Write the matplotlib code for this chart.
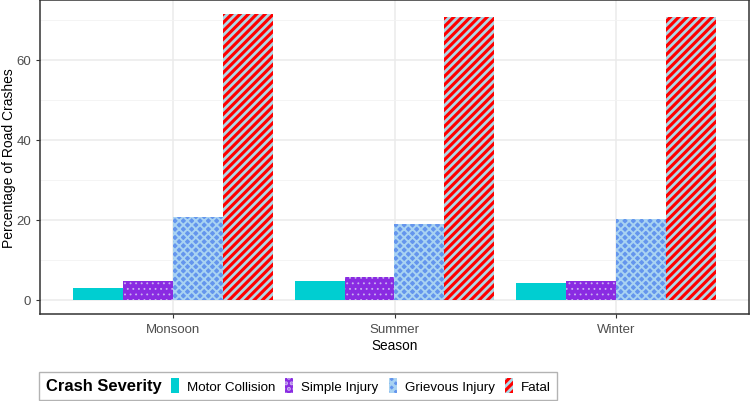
import numpy as np
import matplotlib
matplotlib.use("Agg")
import matplotlib.pyplot as plt
from matplotlib.patches import Patch
from matplotlib.offsetbox import HPacker

plt.rcParams['font.family'] = ['Liberation Sans', 'DejaVu Sans']

seasons = ["Monsoon", "Summer", "Winter"]
severity = ["Motor Collision", "Simple Injury", "Grievous Injury", "Fatal"]
motor = [3.0, 4.8, 4.1]
simple = [4.6, 5.6, 4.6]
grievous = [20.6, 19.0, 20.3]
fatal = [71.4, 70.6, 70.8]

# fill, hatch colour, hatch, hatch line width
styles = [("#00CED1", "#00CED1", "", 1.0),
          ("#8A2BE2", "#C9B2F0", "...", 0.6),
          ("#6495ED", "#A9D3F2", "xxxx", 1.4),
          ("#FF0000", "#ADD8E6", "////", 2.0)]

fig = plt.figure(figsize=(7.5, 4.02), dpi=100)
ax = fig.add_axes([40 / 750, 87 / 402, 709 / 750, 314 / 402])

x = np.arange(1, len(seasons) + 1)
w = 0.225
handles = []
for i, vals in enumerate([motor, simple, grievous, fatal]):
    fc, hc, h, hlw = styles[i]
    plt.rcParams['hatch.linewidth'] = hlw
    ax.bar(x + (i - 1.5) * w, vals, width=w, facecolor=fc, edgecolor=hc,
           hatch=h, linewidth=0, zorder=3)
    handles.append(Patch(facecolor=fc, edgecolor=hc, hatch=h, linewidth=0))

ax.set_xlim(0.4, 3.6)
ax.set_ylim(-3.57, 74.97)
ax.set_xticks(x)
ax.set_xticklabels(seasons)
ax.set_yticks([0, 20, 40, 60])
ax.set_yticks([10, 30, 50, 70], minor=True)
ax.grid(which="major", color="#EBEBEB", linewidth=1.1, zorder=0)
ax.grid(which="minor", axis="y", color="#F2F2F2", linewidth=0.6, zorder=0)
ax.set_axisbelow(True)
for s in ax.spines.values():
    s.set_color("#333333")
    s.set_linewidth(1.1)
ax.tick_params(which="major", colors="#333333", labelcolor="#4D4D4D",
               labelsize=9.5, length=3)
ax.tick_params(which="minor", length=0)
ax.set_xlabel("Season", fontsize=9.8, labelpad=2)
ax.set_ylabel("Percentage of Road Crashes", fontsize=10.0, labelpad=0.5)

# legend at the bottom, title to the left of the keys
leg = fig.legend(handles, severity, title="Crash Severity",
                 title_fontproperties={"weight": "bold", "size": 11.9},
                 loc="lower left", bbox_to_anchor=(39 / 750, 1 / 402),
                 ncol=4, fontsize=9.6, frameon=True, fancybox=False,
                 handlelength=0.6, handleheight=1.3, handletextpad=0.6,
                 columnspacing=0.75, borderpad=0.5, borderaxespad=0)
box = leg._legend_box
hbox = HPacker(pad=box.pad, sep=7, align="center",
               children=[leg._legend_title_box, leg._legend_handle_box])
hbox.set_figure(fig)
hbox.axes = leg.axes
hbox.set_offset(leg._findoffset)
leg._legend_box = hbox
leg.get_frame().set_edgecolor("#A0A0A0")
leg.get_frame().set_linewidth(1.0)

fig.savefig("out.png", dpi=100)
